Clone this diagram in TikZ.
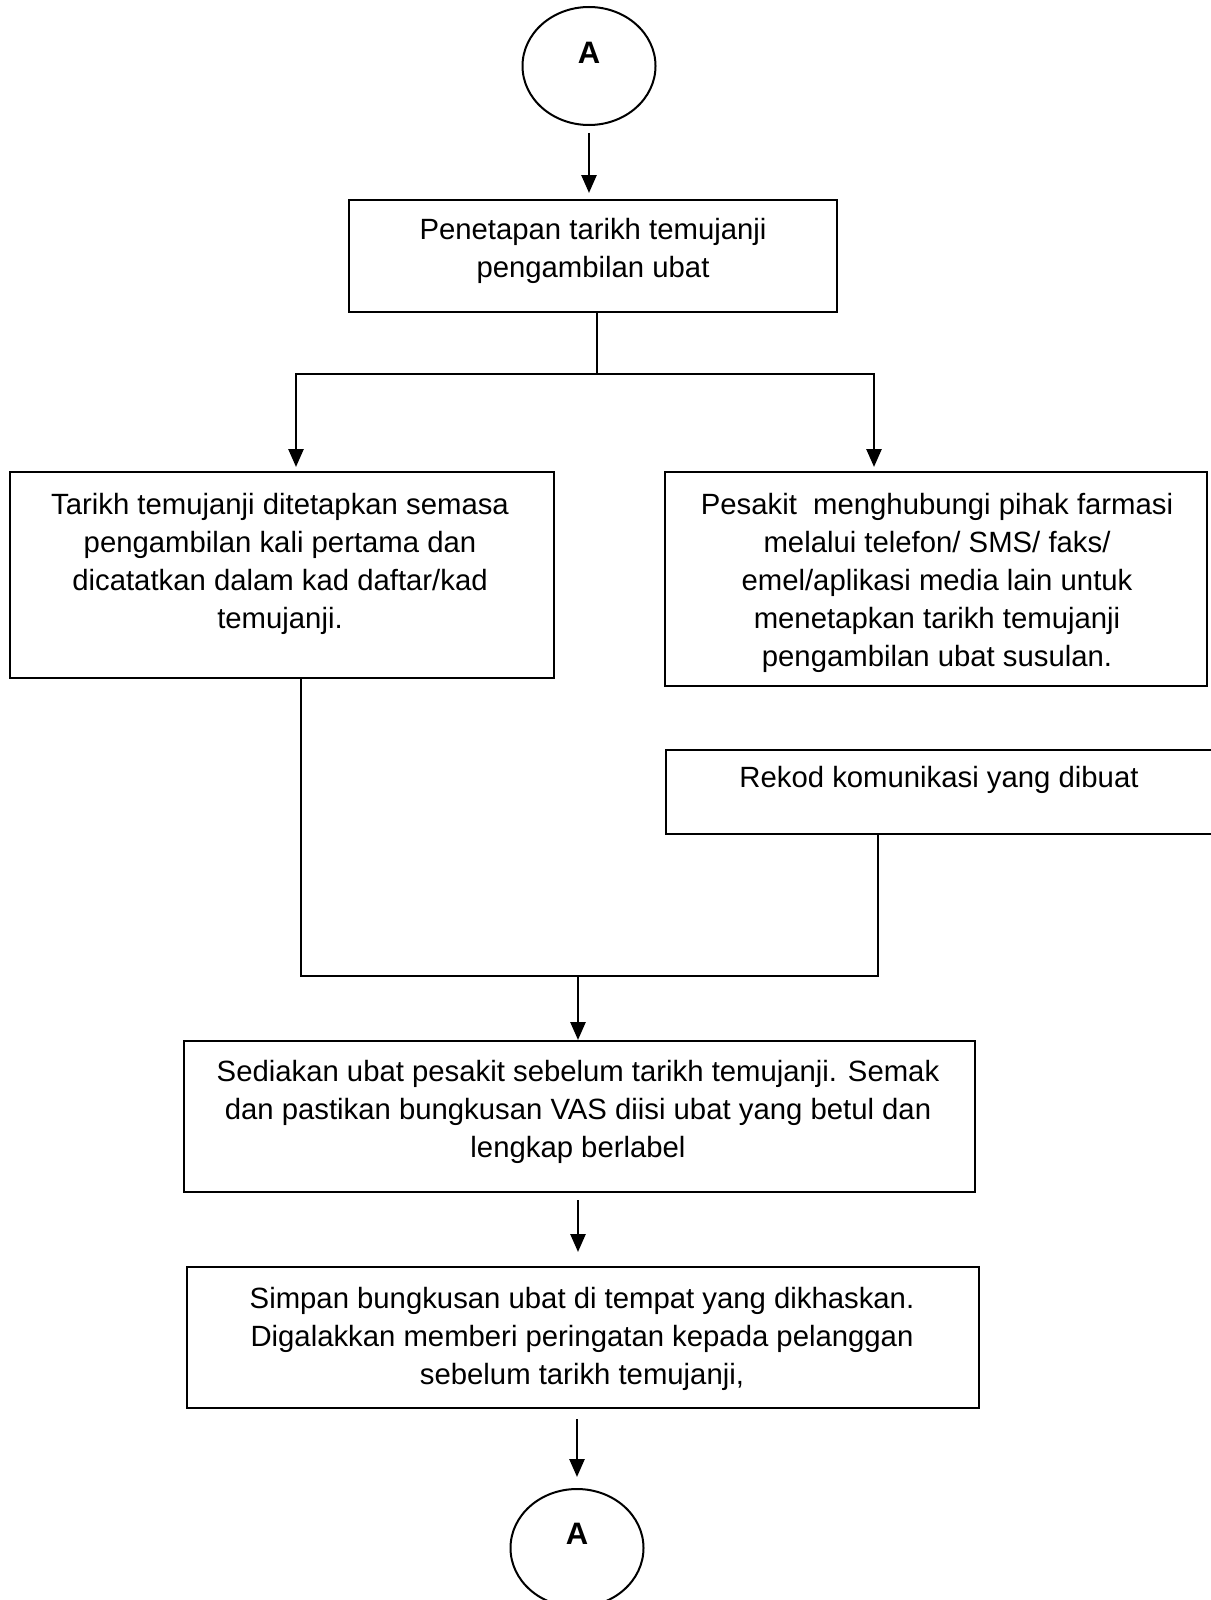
\documentclass[tikz,border=0pt]{standalone}
\usepackage{fontspec}
\setmainfont{Liberation Sans}
\usetikzlibrary{arrows.meta,shapes.geometric,calc}
\begin{document}
\begin{tikzpicture}[x=0.5pt,y=-0.5pt,
  boxst/.style={draw,line width=1pt,rectangle,inner sep=0pt},
  ovalst/.style={draw,line width=1pt,ellipse,inner sep=0pt,minimum width=66.5pt,minimum height=59pt},
  txt/.style={align=center,inner sep=0pt,anchor=north,font=\fontsize{14.65}{19}\selectfont},
  lbl/.style={inner sep=0pt,font=\fontsize{15.5}{19}\selectfont\bfseries},
  conn/.style={line width=1pt},
  arr/.style={line width=1.3pt,-{Triangle[width=7.5pt,length=9pt]}}]
\useasboundingbox (0,0) rectangle (1210,1600);
% nodes
\node[ovalst] (c1) at (589,66) {};
\node[lbl] (a1) at (589,53) {A};
\node[boxst,minimum width=244pt,minimum height=56pt] (b1) at (593,256) {};
\node[txt] (t1) at (593,218) {Penetapan tarikh temujanji\\pengambilan ubat};
\node[boxst,minimum width=272pt,minimum height=103pt] (b2) at (282,575) {};
\node[txt] (t2) at (280,493) {Tarikh temujanji ditetapkan semasa\\pengambilan kali pertama dan\\dicatatkan dalam kad daftar/kad\\temujanji.};
\node[boxst,minimum width=271pt,minimum height=107pt] (b3) at (936,579) {};
\node[txt] (t3) at (937,493) {Pesakit\ \ menghubungi pihak farmasi\\melalui telefon/ SMS/ faks/\\emel/aplikasi media lain untuk\\menetapkan tarikh temujanji\\pengambilan ubat susulan.};
\node[boxst,minimum width=282pt,minimum height=42pt] (b4) at (948,792) {};
\node[txt] (t4) at (939,766) {Rekod komunikasi yang dibuat};
\node[boxst,minimum width=395.5pt,minimum height=75.5pt] (b5) at (579.5,1116.5) {};
\node[txt] (t5) at (578,1060) {Sediakan ubat pesakit sebelum tarikh temujanji. Semak\\dan pastikan bungkusan VAS diisi ubat yang betul dan\\lengkap berlabel};
\node[boxst,minimum width=396pt,minimum height=70.5pt] (b6) at (583,1337.5) {};
\node[txt] (t6) at (582,1287) {Simpan bungkusan ubat di tempat yang dikhaskan.\\Digalakkan memberi peringatan kepada pelanggan\\sebelum tarikh temujanji,};
\node[ovalst] (c2) at (577,1548) {};
\node[lbl] (a2) at (577,1534) {A};
% junction coordinates
\coordinate (j1) at (597,374);
\coordinate (j2) at (578,976);
\coordinate (p1) at ($(b5.south)+(-1.5,0)$);
\coordinate (p2) at ($(b6.south)+(-6,0)$);
% connectors
\draw[arr,shorten <=3.5pt,shorten >=3pt] (c1.south) -- (c1.south |- b1.north);
\draw[conn] ($(b1.south)+(4,0)$) -- (j1);
\draw[arr,shorten >=2pt] (j1) -| ($(b2.north)+(14,0)$);
\draw[arr,shorten >=2pt] (j1) -| ($(b3.north)+(-62,0)$);
\draw[conn] ($(b2.south)+(19,0)$) |- (j2);
\draw[conn] ($(b4.south)+(-70,0)$) |- (j2);
\draw[arr] (j2) -- (j2 |- b5.north);
\draw[arr,shorten <=3.5pt,shorten >=7pt] (p1) -- (p1 |- b6.north);
\draw[arr,shorten <=5pt,shorten >=5.5pt] (p2) -- (p2 |- c2.north);
\end{tikzpicture}
\end{document}
